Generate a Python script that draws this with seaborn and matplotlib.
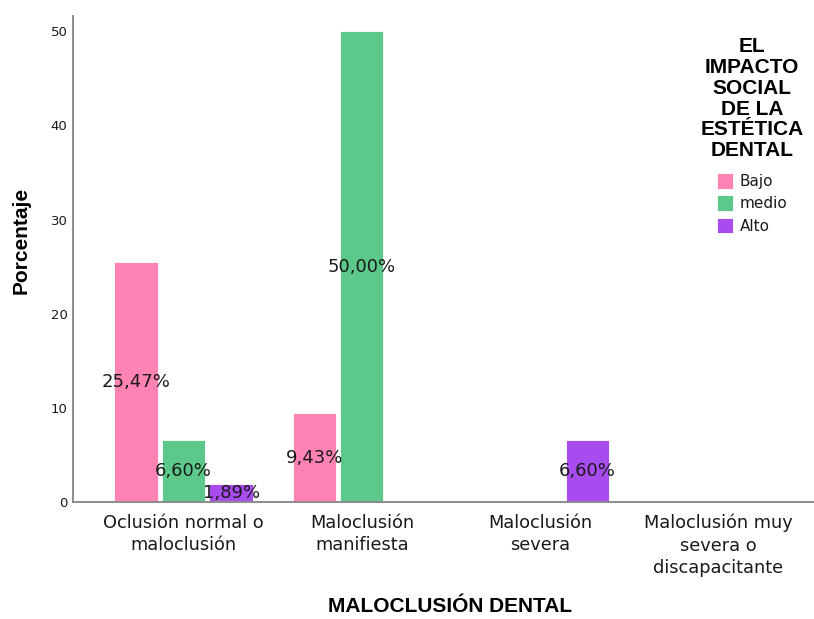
import matplotlib
matplotlib.use("Agg")
import matplotlib.pyplot as plt
import seaborn as sns
import pandas as pd

# Categories of dental malocclusion (x axis)
categorias = [
    "Oclusión normal o\nmaloclusión",
    "Maloclusión\nmanifiesta",
    "Maloclusión\nsevera",
    "Maloclusión muy\nsevera o\ndiscapacitante",
]
# Levels of social impact (hue)
niveles = ["Bajo", "medio", "Alto"]
# Percentages per level, one value per category
bajo = [25.47, 9.43, 0.0, 0.0]
medio = [6.60, 50.00, 0.0, 0.0]
alto = [1.89, 0.0, 6.60, 0.0]
colores = ["#FF82B4", "#5CC98A", "#A84CF0"]

rows = []
for nivel, valores in zip(niveles, [bajo, medio, alto]):
    for cat, v in zip(categorias, valores):
        if v > 0:
            rows.append({"cat": cat, "nivel": nivel, "pct": v})
df = pd.DataFrame(rows)

sns.set_style("white")
plt.rcParams["font.family"] = ["DejaVu Sans"]

fig = plt.figure(figsize=(8.14, 6.19), dpi=100)
ax = fig.add_axes([0.0897, 0.189, 0.9103, 0.785])

sns.barplot(
    data=df, x="cat", y="pct", hue="nivel",
    order=categorias, hue_order=niveles,
    palette=colores, width=0.8, gap=0.09,
    edgecolor="white", linewidth=0.6, saturation=1, ax=ax,
)

for cont in ax.containers:
    ax.bar_label(
        cont, label_type="center",
        fmt=lambda v: f"{v:.2f}%".replace(".", ","),
        fontsize=13, color="#1a1a1a",
    )

ax.set_xlim(-0.62, 3.536)
ax.set_ylim(0, 51.6)
ax.set_yticks([0, 10, 20, 30, 40, 50])
ax.tick_params(axis="y", length=0, pad=4, labelsize=9.5, labelcolor="#1a1a1a")
ax.tick_params(axis="x", length=0, pad=8.5, labelsize=12.8, labelcolor="#1a1a1a")
for lbl in ax.get_xticklabels():
    lbl.set_linespacing(1.3)

for side in ["top", "right"]:
    ax.spines[side].set_visible(False)
for side in ["left", "bottom"]:
    ax.spines[side].set_color("#8c8c8c")
    ax.spines[side].set_linewidth(1.4)

bold_font = dict(family=["Liberation Sans", "DejaVu Sans"], fontweight="bold",
                 color="black")
ax.set_xlabel("MALOCLUSIÓN DENTAL", fontsize=15, **bold_font)
ax.set_ylabel("Porcentaje", fontsize=15, **bold_font)
ax.xaxis.set_label_coords((450 - 73) / 741, -(597 - 502) / 486)
ax.yaxis.set_label_coords((31 - 73) / 741, (502 - 240) / 486)

leg = ax.legend(
    title="EL\nIMPACTO\nSOCIAL\nDE LA\nESTÉTICA\nDENTAL",
    loc="upper center", bbox_to_anchor=(752 / 814, 0.962),
    bbox_transform=fig.transFigure,
    frameon=False, fontsize=11, title_fontsize=15,
    handlelength=1.1, handleheight=1.2, handletextpad=0.4,
    labelspacing=0.42,
)
# a little more room between the title block and the entries
leg._legend_box.sep += 4.5
title = leg.get_title()
title.set_fontweight("bold")
title.set_family(["Liberation Sans", "DejaVu Sans"])
title.set_color("black")
title.set_multialignment("center")
title.set_linespacing(1.12)
for t in leg.get_texts():
    t.set_color("#1a1a1a")

fig.savefig("out.png", dpi=100)
